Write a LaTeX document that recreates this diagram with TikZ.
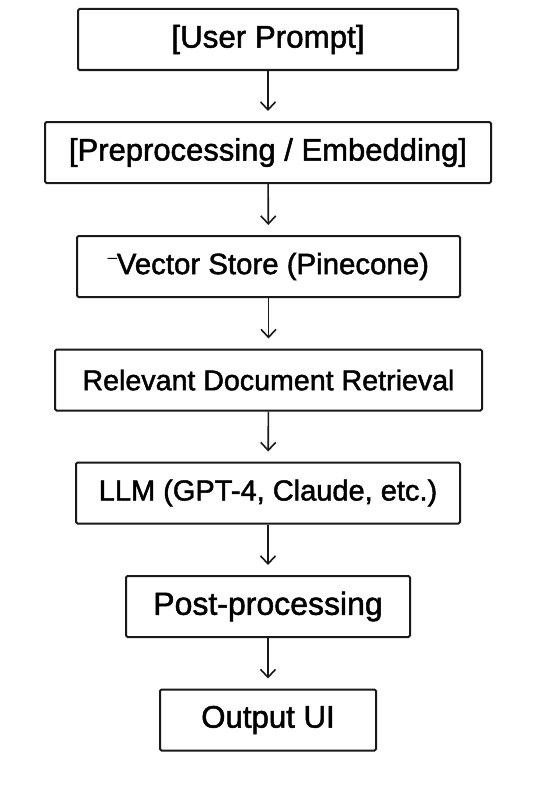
\documentclass[tikz,border=0pt]{standalone}
\usepackage{fontspec}
\newfontfamily\stagefont{Liberation Sans}[FakeBold=1.6]
\usetikzlibrary{arrows.meta}
\begin{document}
\begin{tikzpicture}[x=1pt,y=1pt,
        stage/.style={draw=black!90,line width=2pt,rounded corners=1.5pt,minimum height=61pt,inner sep=0pt,font=\stagefont\fontsize{#1}{34}\selectfont},
        stage/.default=30,
        flow/.style={draw=black!90,line width=1.6pt,-{Straight Barb[length=8pt,width=15pt,line width=1.6pt]},shorten >=10pt}]
        \useasboundingbox (0,0) rectangle (533,-800);
        \fill[white] (0,0) rectangle (533,-800);
        \node [stage=31.3,minimum width=380pt] (prompt) at (268,-39.5) {[User Prompt]};
        \node [stage=31,minimum width=446pt] (embed) at (268,-152.5) {[Preprocessing / Embedding]};
        \node [stage=29.4,minimum width=383pt] (store) at (268.5,-266.5) {{\fontsize{16}{16}\selectfont\raisebox{4pt}{¯}}Vector Store (Pinecone)};
        \node [stage=28.6,minimum width=427pt] (retrieve) at (268.5,-380) {Relevant Document Retrieval};
        \node [stage=29,minimum width=384pt] (llm) at (268,-493) {LLM (GPT-4, Claude, etc.)};
        \node [stage=32,minimum width=284pt] (post) at (268,-606.5) {Post-processing};
        \node [stage=31.2,minimum width=216pt] (output) at (268,-720) {Output UI};
        \draw [flow] (prompt) -- (embed);
        \draw [flow] (embed) -- (store);
        \draw [flow] (store) -- (retrieve);
        \draw [flow] (retrieve) -- (llm);
        \draw [flow] (llm) -- (post);
        \draw [flow] (post) -- (output);
\end{tikzpicture}
\end{document}
